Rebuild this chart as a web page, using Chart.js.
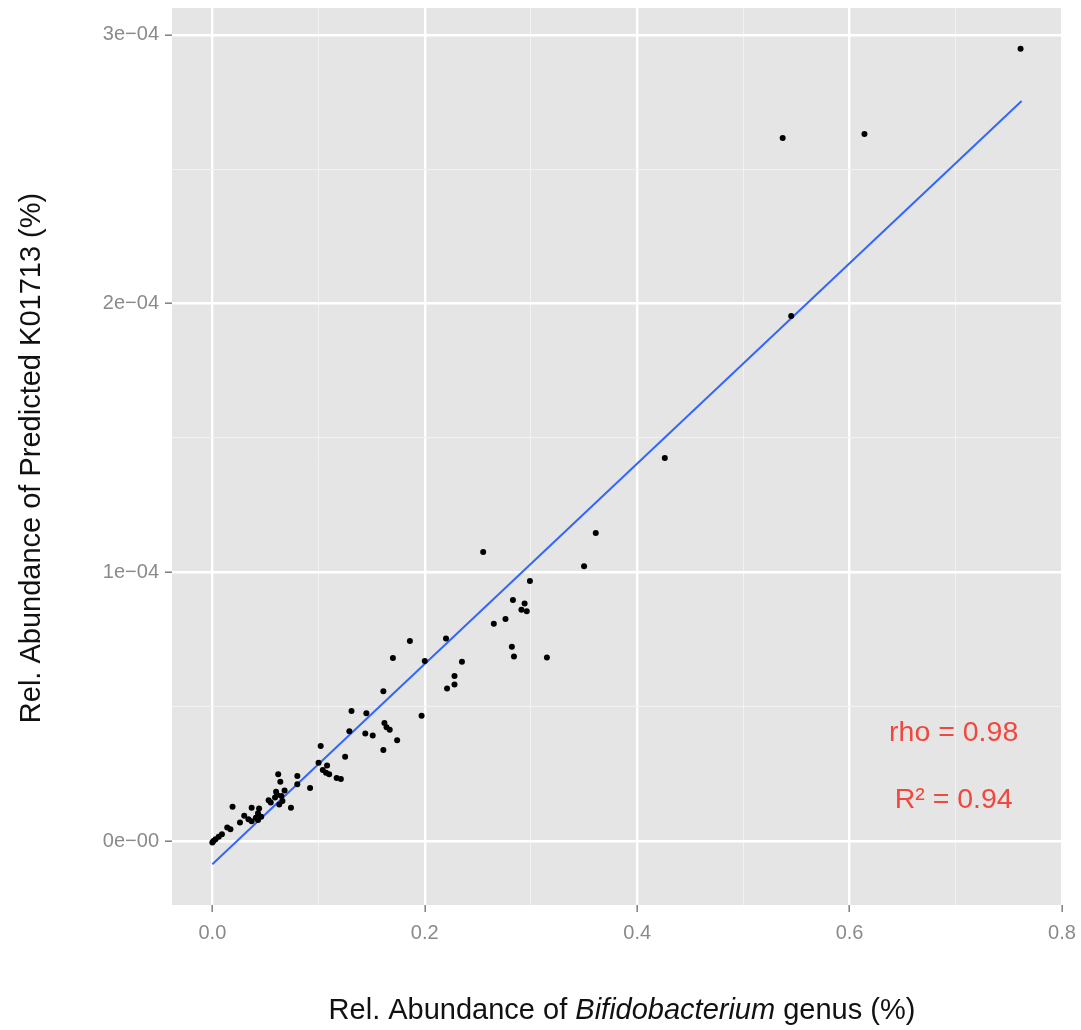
<!DOCTYPE html>
<html>
<head>
<meta charset="utf-8">
<script src="https://cdn.jsdelivr.net/npm/chart.js@4.4.0/dist/chart.umd.min.js"></script>
<style>
  html, body { margin: 0; padding: 0; background: #ffffff; }
  #wrap { width: 1081px; height: 1030px; position: relative; }
</style>
</head>
<body>
<div id="wrap"><canvas id="scatter"></canvas></div>
<script>
// --- data ---
const bifidoX = [
  0.761, 0.537, 0.614, 0.545, 0.426, 0.361, 0.350, 0.255,
  0.299, 0.283, 0.294, 0.291, 0.296, 0.276, 0.265, 0.282, 0.284, 0.315,
  0.220, 0.186, 0.170, 0.200, 0.235, 0.228, 0.228, 0.221, 0.161, 0.197,
  0.131, 0.145, 0.129, 0.144, 0.151, 0.162, 0.164, 0.167, 0.174, 0.161,
  0.102, 0.125, 0.100, 0.108, 0.104, 0.107, 0.110, 0.117, 0.121, 0.092,
  0.062, 0.080, 0.064, 0.080, 0.068, 0.060, 0.061, 0.059, 0.065, 0.053,
  0.055, 0.063, 0.066, 0.074, 0.019, 0.037, 0.044, 0.043, 0.041, 0.030,
  0.034, 0.037, 0.043, 0.046, 0.026, 0.014, 0.017, 0.009, 0.006, 0.003,
  0.000, 0.001
];
const k01713Y = [
  2.948e-4, 2.616e-4, 2.631e-4, 1.954e-4, 1.425e-4, 1.146e-4, 1.023e-4, 1.076e-4,
  0.968e-4, 0.897e-4, 0.884e-4, 0.861e-4, 0.855e-4, 0.826e-4, 0.809e-4, 0.723e-4, 0.687e-4, 0.683e-4,
  0.754e-4, 0.744e-4, 0.681e-4, 0.670e-4, 0.667e-4, 0.614e-4, 0.583e-4, 0.568e-4, 0.557e-4, 0.466e-4,
  0.484e-4, 0.476e-4, 0.409e-4, 0.400e-4, 0.393e-4, 0.439e-4, 0.423e-4, 0.414e-4, 0.375e-4, 0.339e-4,
  0.354e-4, 0.314e-4, 0.291e-4, 0.281e-4, 0.264e-4, 0.254e-4, 0.249e-4, 0.235e-4, 0.231e-4, 0.197e-4,
  0.249e-4, 0.242e-4, 0.221e-4, 0.211e-4, 0.188e-4, 0.183e-4, 0.171e-4, 0.162e-4, 0.168e-4, 0.152e-4,
  0.143e-4, 0.136e-4, 0.149e-4, 0.124e-4, 0.128e-4, 0.124e-4, 0.121e-4, 0.103e-4, 0.087e-4, 0.094e-4,
  0.081e-4, 0.074e-4, 0.078e-4, 0.090e-4, 0.069e-4, 0.050e-4, 0.044e-4, 0.025e-4, 0.016e-4, 0.007e-4,
  -0.005e-4, 0.000e-4
];

// linear fit line (end points)
const fitX = [0.0, 0.762];
const fitY = [-0.086e-4, 2.754e-4];

// axis ticks / labels
const xGridVals = [0.0, 0.1, 0.2, 0.3, 0.4, 0.5, 0.6, 0.7, 0.8];
const xTickLabels = ['0.0', '', '0.2', '', '0.4', '', '0.6', '', '0.8'];
const yGridVals = [0, 0.5e-4, 1e-4, 1.5e-4, 2e-4, 2.5e-4, 3e-4];
const yTickLabels = ['0e\u221200', '', '1e\u221204', '', '2e\u221204', '', '3e\u221204'];

// text annotations
const noteLabels = ['rho = 0.98', 'R\u00b2 = 0.94'];
const noteX = [0.698, 0.698];
const noteY = [0.402e-4, 0.153e-4];

const FONT = '"Liberation Sans", Arial, Helvetica, sans-serif';

// ggplot-like grey panel
const panelBg = {
    id: 'panelBg',
    beforeDraw(chart) {
        const { ctx, chartArea: a } = chart;
        ctx.save();
        ctx.fillStyle = '#e5e5e5';
        ctx.fillRect(a.left, a.top, a.right - a.left, a.bottom - a.top);
        ctx.restore();
    }
};

// axis titles (x title has an italic genus name) + annotations
const textLayer = {
    id: 'textLayer',
    afterDraw(chart) {
        const { ctx, chartArea: a, scales } = chart;
        ctx.save();

        // x title
        const parts = [
            { t: 'Rel. Abundance of ', f: '29px ' + FONT },
            { t: 'Bifidobacterium', f: 'italic 29px ' + FONT },
            { t: ' genus (%)', f: '29px ' + FONT }
        ];
        let total = 0;
        parts.forEach(p => { ctx.font = p.f; p.w = ctx.measureText(p.t).width; total += p.w; });
        let x = 622 - total / 2;
        ctx.fillStyle = '#111';
        ctx.textBaseline = 'middle';
        ctx.textAlign = 'left';
        parts.forEach(p => { ctx.font = p.f; ctx.fillText(p.t, x, 1011); x += p.w; });

        // y title
        ctx.translate(32, 458);
        ctx.rotate(-Math.PI / 2);
        ctx.font = '29px ' + FONT;
        ctx.textAlign = 'center';
        ctx.fillText('Rel. Abundance of Predicted K01713 (%)', 0, 0);
        ctx.setTransform(1, 0, 0, 1, 0, 0);

        // annotations
        ctx.fillStyle = '#f0483f';
        ctx.font = '28.5px ' + FONT;
        ctx.textAlign = 'center';
        noteLabels.forEach((lab, i) => {
            ctx.fillText(lab, scales.x.getPixelForValue(noteX[i]), scales.y.getPixelForValue(noteY[i]));
        });
        ctx.restore();
    }
};

const isMajor = (i) => i % 2 === 0;

new Chart(document.getElementById('scatter'), {
    type: 'scatter',
    data: {
        datasets: [
            {
                label: 'fit',
                type: 'line',
                data: fitX.map((v, i) => ({ x: v, y: fitY[i] })),
                borderColor: '#3366ff',
                borderWidth: 2,
                pointRadius: 0,
                fill: false,
                order: 2
            },
            {
                label: 'samples',
                data: bifidoX.map((v, i) => ({ x: v, y: k01713Y[i] })),
                backgroundColor: '#000000',
                borderWidth: 0,
                pointRadius: 3,
                order: 1
            }
        ]
    },
    options: {
        responsive: true,
        maintainAspectRatio: false,
        animation: false,
        layout: { padding: { top: 8, right: 19, left: 0, bottom: 0 } },
        plugins: {
            legend: { display: false },
            tooltip: { enabled: false }
        },
        scales: {
            x: {
                type: 'linear',
                min: -0.038,
                max: 0.8,
                afterBuildTicks: s => { s.ticks = xGridVals.map(v => ({ value: v })); },
                afterFit: s => { s.height = 125; s.paddingLeft = 0; s.paddingRight = 0; },
                border: { display: false },
                grid: {
                    color: c => isMajor(c.index) ? '#ffffff' : '#f2f2f2',
                    lineWidth: c => isMajor(c.index) ? 2.4 : 1,
                    tickColor: c => isMajor(c.index) ? '#7f7f7f' : 'rgba(0,0,0,0)',
                    tickLength: 7,
                    tickWidth: 1.5
                },
                ticks: {
                    autoSkip: false,
                    maxRotation: 0,
                    padding: 9,
                    color: '#8a8a8a',
                    font: { family: FONT, size: 20 },
                    callback: (v, i) => xTickLabels[i]
                }
            },
            y: {
                type: 'linear',
                min: -0.238e-4,
                max: 3.1e-4,
                afterBuildTicks: s => { s.ticks = yGridVals.map(v => ({ value: v })); },
                afterFit: s => { s.width = 172; s.paddingTop = 0; s.paddingBottom = 0; },
                border: { display: false },
                grid: {
                    color: c => isMajor(c.index) ? '#ffffff' : '#f2f2f2',
                    lineWidth: c => isMajor(c.index) ? 2.4 : 1,
                    tickColor: c => isMajor(c.index) ? '#7f7f7f' : 'rgba(0,0,0,0)',
                    tickLength: 7,
                    tickWidth: 1.5
                },
                ticks: {
                    autoSkip: false,
                    padding: 6,
                    color: '#8a8a8a',
                    font: { family: FONT, size: 20 },
                    callback: (v, i) => yTickLabels[i]
                }
            }
        }
    },
    plugins: [panelBg, textLayer]
});
</script>
</body>
</html>
